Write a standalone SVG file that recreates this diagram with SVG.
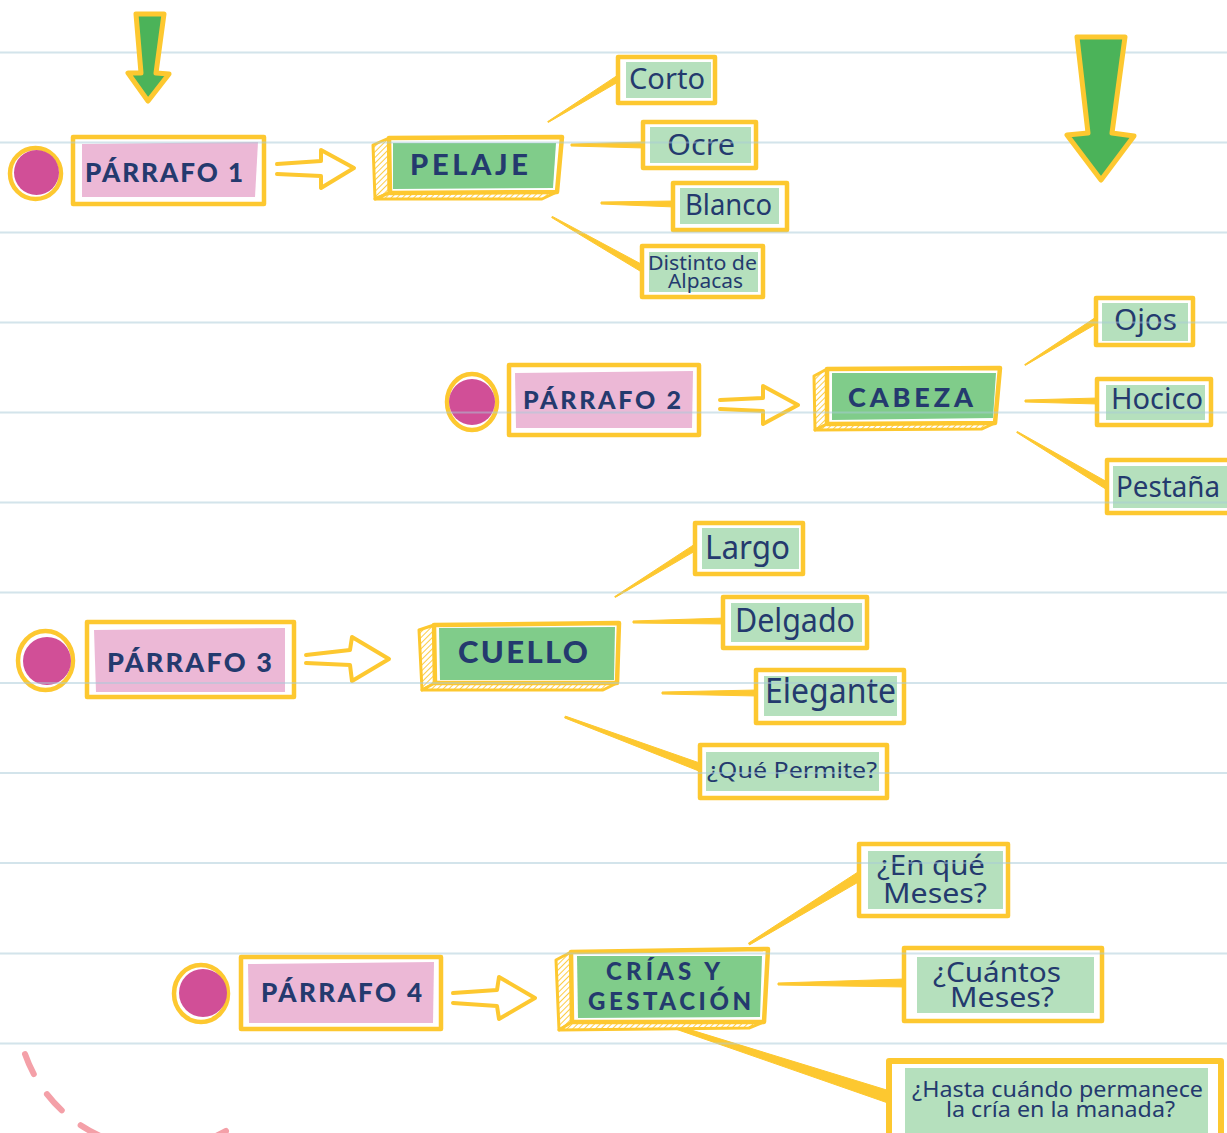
<svg xmlns="http://www.w3.org/2000/svg" width="1227" height="1133" viewBox="0 0 1227 1133">
<defs>
<pattern id="hatch" patternUnits="userSpaceOnUse" width="4" height="4" patternTransform="rotate(45)"><rect width="4" height="4" fill="#fff"/><line x1="0" y1="0" x2="0" y2="4" stroke="#fdc830" stroke-width="1.8"/></pattern>
</defs>
<style>
.frame{fill:#fff;stroke:#fdc830;stroke-width:4.5;stroke-linejoin:round}
.pink{fill:#ecb8d6}
.green{fill:#80cc8a}
.lgreen{fill:#b5e0bd}
.side{fill:url(#hatch);stroke:#fdc830;stroke-width:3;stroke-linejoin:round}
.dot{fill:#d14f97}
.ring{fill:none;stroke:#fdc830;stroke-width:4.5}
.hd{font-family:Lato,"Open Sans",sans-serif;font-weight:900;fill:#243a6e}
.lf{font-family:"Noto Sans","Open Sans",sans-serif;fill:#243a6e}
.conn{fill:#fdc830;stroke:#fdc830;stroke-width:1;stroke-linejoin:round}
.harrow{fill:none;stroke:#fdc830;stroke-width:4;stroke-linejoin:round;stroke-linecap:round}
.garrow{fill:#4bb359;stroke:#fdc830;stroke-width:5;stroke-linejoin:round}
.rule{stroke:#a8cbd8;stroke-width:2;opacity:0.5}
.dash{fill:none;stroke:#f4a0a8;stroke-width:6;stroke-linecap:round;stroke-dasharray:22 24}
</style>
<rect width="1227" height="1133" fill="#fff"/>

<g id="connectors">
<polygon class="conn" points="547.7,121.6 617.4,75.4 620.6,80.6 548.3,122.4"/>
<polygon class="conn" points="571,144 645,142 645,148 571,146"/>
<polygon class="conn" points="601,202 675,201 675,207 601,204"/>
<polygon class="conn" points="552.3,216.4 646.7,267 643.3,273 551.7,217.6"/>
<polygon class="conn" points="1024.7,364.6 1095.4,317.5 1098.6,322.5 1025.3,365.4"/>
<polygon class="conn" points="1025,400 1098,398 1098,404 1025,402"/>
<polygon class="conn" points="1017.3,431.5 1110.8,484 1107.2,490 1016.7,432.5"/>
<polygon class="conn" points="614.7,596.6 694.4,544.4 697.6,549.6 615.3,597.4"/>
<polygon class="conn" points="633,621 725,618 725,624 633,623"/>
<polygon class="conn" points="662,692 757,690 757,696 662,694"/>
<polygon class="conn" points="565.35,716.1 703.4,764.3 700.6,771.7 564.65,717.9"/>
<polygon class="conn" points="748.5,943.1 857.7,872.2 862.3,879.8 749.5,944.9"/>
<polygon class="conn" points="778,983 905,979 905,987 778,985"/>
<polygon class="conn" points="660.5,1020.6 890.9,1091.3 887.1,1102.7 659.5,1023.4"/>
<path class="harrow" d="M277,164 L321,161 L321,150 L354,168 L321,188 L321,176 L277,174"/>
<path class="harrow" d="M720,400 L763,398 L763,386 L798,405 L763,424 L763,411 L720,409"/>
<path class="harrow" d="M306,655 L350,650 L352,637 L389,659 L352,681 L350,665 L306,663"/>
<path class="harrow" d="M453,993 L497,990 L499,977 L535,998 L499,1019 L497,1006 L453,1003"/>
</g>

<g id="p1">
<circle class="ring" cx="35.5" cy="173.5" r="25.5"/>
<circle class="dot" cx="36.5" cy="172.5" r="22.5"/>
<rect class="frame" x="73" y="137" width="191" height="67"/>
<polygon class="pink" points="82,144 258,142 255,197 82,197"/>
<text class="hd" x="164" y="182" font-size="26" text-anchor="middle" textLength="158" lengthAdjust="spacing">PÁRRAFO 1</text>
</g>

<g id="pelaje">
<polygon class="side" points="373,145 389,138 389,193 375,199"/>
<polygon class="side" points="375,199 389,193 557,192 542,199"/>
<polygon class="frame" points="389,138 562,137 557,192 390,193"/>
<polygon class="green" points="393,143 556,143 553,188 393,189"/>
<text class="hd" x="469" y="175" font-size="29" text-anchor="middle" textLength="118" lengthAdjust="spacing">PELAJE</text>
</g>

<g id="corto">
<rect class="frame" x="618" y="57" width="97" height="46"/>
<rect class="lgreen" x="626" y="62" width="85" height="36"/>
<text class="lf" x="667" y="89" font-size="29" text-anchor="middle" textLength="76" lengthAdjust="spacingAndGlyphs">Corto</text>
</g>
<g id="ocre">
<rect class="frame" x="643" y="122" width="113" height="46"/>
<rect class="lgreen" x="650" y="127" width="101" height="36"/>
<text class="lf" x="701" y="155" font-size="29" text-anchor="middle" textLength="68" lengthAdjust="spacingAndGlyphs">Ocre</text>
</g>
<g id="blanco">
<rect class="frame" x="673" y="183" width="114" height="47"/>
<rect class="lgreen" x="680" y="188" width="99" height="36"/>
<text class="lf" x="728.5" y="215" font-size="29" text-anchor="middle" textLength="87" lengthAdjust="spacingAndGlyphs">Blanco</text>
</g>
<g id="distinto">
<rect class="frame" x="642" y="246" width="121" height="51"/>
<rect class="lgreen" x="649" y="252" width="109" height="40"/>
<text class="lf" x="702.5" y="270" font-size="19" text-anchor="middle" textLength="109" lengthAdjust="spacingAndGlyphs">Distinto de</text>
<text class="lf" x="705.5" y="288" font-size="19" text-anchor="middle" textLength="75" lengthAdjust="spacingAndGlyphs">Alpacas</text>
</g>

<g id="p2">
<ellipse class="ring" cx="472" cy="402" rx="25" ry="28"/>
<circle class="dot" cx="472" cy="402" r="23"/>
<rect class="frame" x="509" y="365" width="190" height="70"/>
<polygon class="pink" points="515,373 693,371 692,428 516,428"/>
<text class="hd" x="602" y="409" font-size="25" text-anchor="middle" textLength="158" lengthAdjust="spacing">PÁRRAFO 2</text>
</g>

<g id="cabeza">
<polygon class="side" points="814,376 827,369 827,424 815,430"/>
<polygon class="side" points="815,430 827,424 995,423 982,429"/>
<polygon class="frame" points="827,369 1000,368 995,423 827,424"/>
<polygon class="green" points="832,373 996,373 993,418 832,420"/>
<text class="hd" x="910.5" y="407" font-size="27" text-anchor="middle" textLength="125" lengthAdjust="spacing">CABEZA</text>
</g>

<g id="ojos">
<rect class="frame" x="1096" y="298" width="97" height="47"/>
<rect class="lgreen" x="1102" y="303" width="86" height="38"/>
<text class="lf" x="1145.5" y="330" font-size="29" text-anchor="middle" textLength="63" lengthAdjust="spacingAndGlyphs">Ojos</text>
</g>
<g id="hocico">
<rect class="frame" x="1097" y="379" width="114" height="46"/>
<rect class="lgreen" x="1106" y="385" width="99" height="35"/>
<text class="lf" x="1157" y="409" font-size="29" text-anchor="middle" textLength="92" lengthAdjust="spacingAndGlyphs">Hocico</text>
</g>
<g id="pestana">
<rect class="frame" x="1107" y="460" width="126" height="53"/>
<rect class="lgreen" x="1113" y="466" width="114" height="42"/>
<text class="lf" x="1168" y="497" font-size="29" text-anchor="middle" textLength="104" lengthAdjust="spacingAndGlyphs">Pestaña</text>
</g>

<g id="p3">
<ellipse class="ring" cx="45.5" cy="660.5" rx="27.5" ry="29.5"/>
<circle class="dot" cx="47" cy="661" r="24"/>
<rect class="frame" x="87" y="622" width="207" height="75"/>
<polygon class="pink" points="94,630 285,628 285,692 96,692"/>
<text class="hd" x="189.5" y="672" font-size="27" text-anchor="middle" textLength="165" lengthAdjust="spacing">PÁRRAFO 3</text>
</g>

<g id="cuello">
<polygon class="side" points="419,630 434,625 435,683 422,690"/>
<polygon class="side" points="422,690 435,683 617,683 603,690"/>
<polygon class="frame" points="434,625 619,623 617,683 435,683"/>
<polygon class="green" points="439,628 615,627 614,680 440,680"/>
<text class="hd" x="523" y="663" font-size="31" text-anchor="middle" textLength="130" lengthAdjust="spacing">CUELLO</text>
</g>

<g id="largo">
<rect class="frame" x="695" y="523" width="108" height="51"/>
<rect class="lgreen" x="702" y="528" width="97" height="41"/>
<text class="lf" x="747.5" y="559" font-size="32" text-anchor="middle" textLength="85" lengthAdjust="spacingAndGlyphs">Largo</text>
</g>
<g id="delgado">
<rect class="frame" x="723" y="597" width="144" height="51"/>
<rect class="lgreen" x="731" y="603" width="131" height="39"/>
<text class="lf" x="795" y="632" font-size="33" text-anchor="middle" textLength="120" lengthAdjust="spacingAndGlyphs">Delgado</text>
</g>
<g id="elegante">
<rect class="frame" x="756" y="670" width="148" height="53"/>
<rect class="lgreen" x="764" y="676" width="133" height="40"/>
<text class="lf" x="830.5" y="703" font-size="34" text-anchor="middle" textLength="131" lengthAdjust="spacingAndGlyphs">Elegante</text>
</g>
<g id="quepermite">
<rect class="frame" x="700" y="745" width="187" height="53"/>
<rect class="lgreen" x="706" y="752" width="173" height="39"/>
<text class="lf" x="792" y="778" font-size="22" text-anchor="middle" textLength="170" lengthAdjust="spacingAndGlyphs">¿Qué Permite?</text>
</g>

<g id="p4">
<ellipse class="ring" cx="201" cy="993.5" rx="27" ry="28.5"/>
<circle class="dot" cx="203" cy="993" r="24"/>
<rect class="frame" x="241" y="957" width="200" height="72"/>
<polygon class="pink" points="248,964 434,962 433,1023 249,1023"/>
<text class="hd" x="341.5" y="1002" font-size="26" text-anchor="middle" textLength="161" lengthAdjust="spacing">PÁRRAFO 4</text>
</g>

<g id="crias">
<polygon class="side" points="556,960 571,952 572,1022 559,1030"/>
<polygon class="side" points="559,1030 572,1022 764,1022 749,1028"/>
<polygon class="frame" points="571,952 768,949 764,1022 572,1022"/>
<polygon class="green" points="577,956 762,956 760,1017 578,1018"/>
<text class="hd" x="663" y="980" font-size="24" text-anchor="middle" textLength="114" lengthAdjust="spacing">CRÍAS Y</text>
<text class="hd" x="669.5" y="1010" font-size="24" text-anchor="middle" textLength="163" lengthAdjust="spacing">GESTACIÓN</text>
</g>

<g id="enque">
<rect class="frame" x="859" y="844" width="149" height="72"/>
<rect class="lgreen" x="868" y="851" width="135" height="58"/>
<text class="lf" x="931" y="875" font-size="27" text-anchor="middle" textLength="108" lengthAdjust="spacingAndGlyphs">¿En qué</text>
<text class="lf" x="935" y="903" font-size="27" text-anchor="middle" textLength="104" lengthAdjust="spacingAndGlyphs">Meses?</text>
</g>
<g id="cuantos">
<rect class="frame" x="904" y="948" width="198" height="73"/>
<rect class="lgreen" x="917" y="957" width="177" height="56"/>
<text class="lf" x="997" y="982" font-size="27" text-anchor="middle" textLength="128" lengthAdjust="spacingAndGlyphs">¿Cuántos</text>
<text class="lf" x="1002" y="1007" font-size="27" text-anchor="middle" textLength="104" lengthAdjust="spacingAndGlyphs">Meses?</text>
</g>
<g id="hasta">
<rect class="frame" x="889" y="1061" width="332" height="90" style="stroke-width:6"/>
<rect class="lgreen" x="905" y="1068" width="303" height="75"/>
<text class="lf" x="1057.5" y="1097" font-size="22" text-anchor="middle" textLength="291" lengthAdjust="spacingAndGlyphs">¿Hasta cuándo permanece</text>
<text class="lf" x="1060.5" y="1117" font-size="22" text-anchor="middle" textLength="229" lengthAdjust="spacingAndGlyphs">la cría en la manada?</text>
</g>

<g id="rules">
<line class="rule" x1="0" y1="52.5" x2="1227" y2="52.5"/>
<line class="rule" x1="0" y1="142.5" x2="1227" y2="142.5"/>
<line class="rule" x1="0" y1="232.5" x2="1227" y2="232.5"/>
<line class="rule" x1="0" y1="322.5" x2="1227" y2="322.5"/>
<line class="rule" x1="0" y1="412.5" x2="1227" y2="412.5"/>
<line class="rule" x1="0" y1="502.5" x2="1227" y2="502.5"/>
<line class="rule" x1="0" y1="592.5" x2="1227" y2="592.5"/>
<line class="rule" x1="0" y1="683" x2="1227" y2="683"/>
<line class="rule" x1="0" y1="773" x2="1227" y2="773"/>
<line class="rule" x1="0" y1="863" x2="1227" y2="863"/>
<line class="rule" x1="0" y1="953.5" x2="1227" y2="953.5"/>
<line class="rule" x1="0" y1="1043.5" x2="1227" y2="1043.5"/>
</g>

<g id="green-arrows">
<path class="garrow" d="M136,14 L164,14 L156,73 L169,74 L148,101 L128,73 L141,73 Z"/>
<path class="garrow" d="M1077,37 L1125,37 L1112,133 L1134,136 L1101,180 L1067,135 L1088,133 Z"/>
</g>

<path class="dash" d="M25,1054 A141,141 0 0 0 226,1131"/>
</svg>
